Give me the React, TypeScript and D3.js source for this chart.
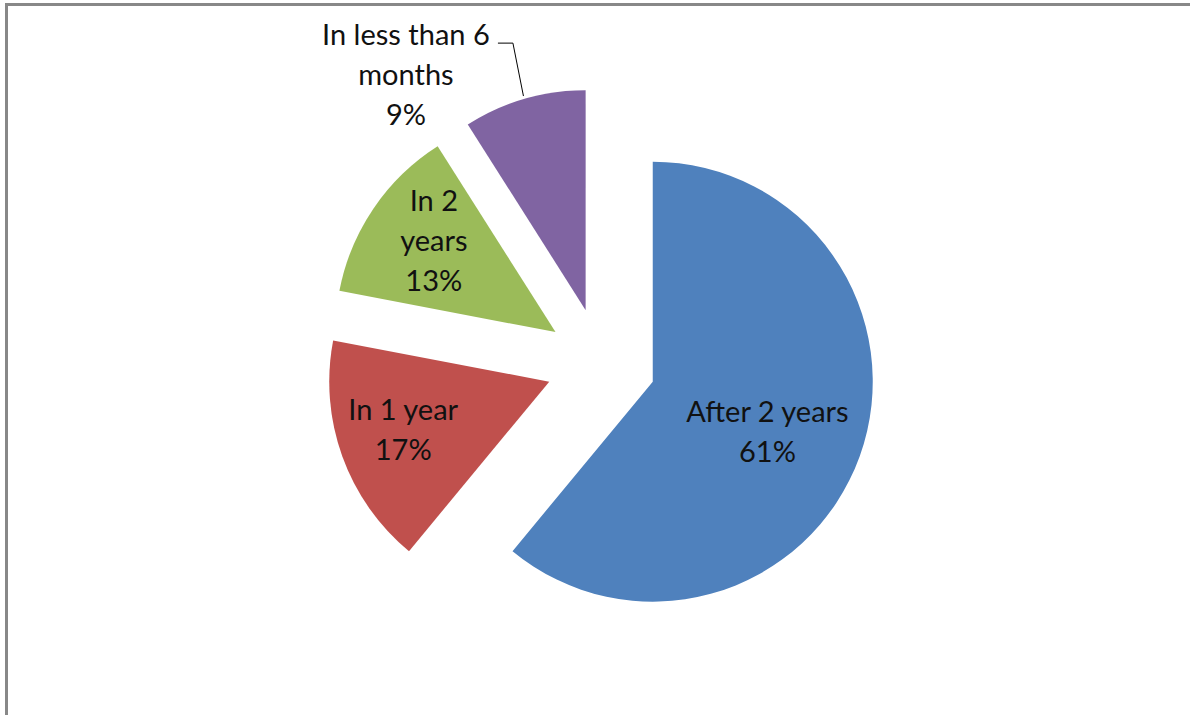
import React from "react";
import * as d3 from "d3";

const categories = ["After 2 years", "In 1 year", "In 2 years", "In less than 6 months"];
const values = [61, 17, 13, 9];
const labelLines = [
  ["After 2 years", "61%"],
  ["In 1 year", "17%"],
  ["In 2", "years", "13%"],
  ["In less than 6", "months", "9%"],
];
const colors = ["#4F81BD", "#C0504D", "#9BBB59", "#8064A2"];

// label placement (ratio of radius from slice apex, angle tweak in degrees)
const labelRatio = [0.57, 0.7, 0.69, 1.345];
const labelAngleTweak = [4, 1.3, 2.5, -21.2];

const W = 1190;
const H = 715;
const cx = 601;
const cy = 363;
const R = 220;
const explode = 55;
const lineH = 40;
const fontSize = 29;

export default function App() {
  const pie = d3
    .pie<number>()
    .sort(null)
    .value((d) => d)
    .startAngle(0)
    .endAngle(2 * Math.PI);
  const arcs = pie(values);
  const arc = d3.arc<d3.PieArcDatum<number>>().innerRadius(0).outerRadius(R);

  return (
    <svg
      width={W}
      height={H}
      style={{ position: "absolute", left: 0, top: 0, background: "#fff" }}
      fontFamily="Lato, 'Open Sans', sans-serif"
    >
      <rect x={6.5} y={4.5} width={W + 20} height={H + 20} fill="#fff" stroke="#888" strokeWidth={3} />
      {arcs.map((a, i) => {
        const mid = (a.startAngle + a.endAngle) / 2;
        const ox = cx + explode * Math.sin(mid);
        const oy = cy - explode * Math.cos(mid);
        const la = mid + (labelAngleTweak[i] * Math.PI) / 180;
        const lr = labelRatio[i] * R;
        const lx = ox + lr * Math.sin(la);
        const ly = oy - lr * Math.cos(la);
        const lines = labelLines[i];
        const n = lines.length;
        const outside = labelRatio[i] > 1;
        let leader: string | null = null;
        if (outside) {
          const sx = ox + (R + 3) * Math.sin(mid);
          const sy = oy - (R + 3) * Math.cos(mid);
          const ey = ly - 32;
          leader = `M${sx},${sy}L${lx + 107},${ey}L${lx + 92},${ey}`;
        }
        return (
          <g key={categories[i]}>
            <path d={arc(a) as string} transform={`translate(${ox},${oy})`} fill={colors[i]} />
            {leader && <path d={leader} fill="none" stroke="#000" strokeWidth={1} />}
            <text textAnchor="middle" fontSize={fontSize} fill="#111">
              {lines.map((t, j) => (
                <tspan key={j} x={lx} y={ly + (j - (n - 1) / 2) * lineH + 10}>
                  {t}
                </tspan>
              ))}
            </text>
          </g>
        );
      })}
    </svg>
  );
}
